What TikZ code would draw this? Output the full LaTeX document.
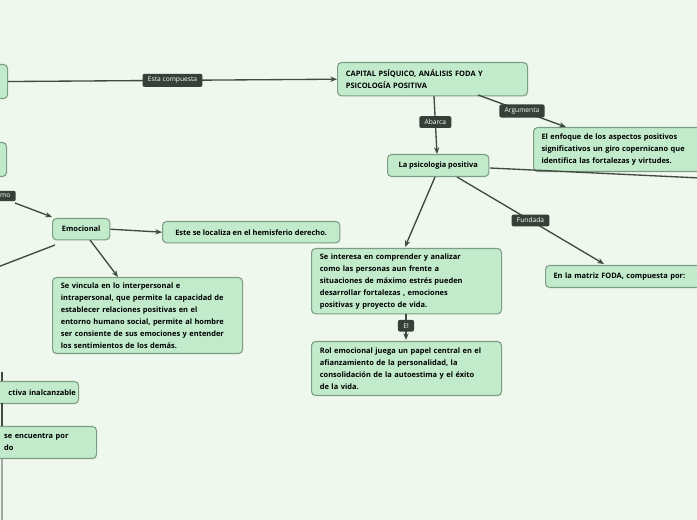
\documentclass[tikz,border=0pt]{standalone}
\usepackage{fontspec}
\setmainfont{Open Sans}
\usetikzlibrary{arrows.meta}
\definecolor{bg}{HTML}{EEF8EC}
\definecolor{nf}{HTML}{C1EBCB}
\definecolor{nd}{HTML}{7E9C86}
\definecolor{lf}{HTML}{363F38}
\definecolor{ed}{HTML}{3E4A42}
\begin{document}
\begin{tikzpicture}[x=0.75pt,y=-0.75pt,
 box/.style={draw=nd,fill=nf,rounded corners=3pt,line width=0.8pt,anchor=north west,inner sep=0pt,
   font=\fontsize{5.6}{9}\selectfont\bfseries,align=left,text=black},
 lab/.style={fill=lf,rounded corners=1.5pt,text=white,font=\fontsize{5}{6}\selectfont,inner xsep=4pt,inner ysep=2.5pt},
 con/.style={draw=ed,line width=1pt},
 arr/.style={con,-{Stealth[length=5pt,width=4pt]}}]
\clip (0,0) rectangle (697,520);
\fill[bg] (0,0) rectangle (697,520);
\useasboundingbox (0,0) rectangle (697,520);
% boxes
\node[box,minimum width=12.75pt,minimum height=25.5pt] (a) at (-10,64) {};
\node[box,minimum width=12pt,minimum height=25.5pt] (b) at (-10,142) {};
\node[box,minimum width=142.5pt,minimum height=25pt,inner xsep=6pt,text width=130pt] (cap) at (337,62) {CAPITAL PSÍQUICO, ANÁLISIS  FODA  Y\\PSICOLOGÍA  POSITIVA};
\node[box,minimum width=130pt,minimum height=33pt,inner xsep=6pt,text width=130pt] (arg) at (533,127) {El enfoque  de los  aspectos  positivos\\significativos un giro copernicano  que\\identifica  las fortalezas  y virtudes.};
\node[box,minimum width=76pt,minimum height=16.5pt,align=center] (psi) at (387,154) {La psicologia positiva};
\node[box,minimum width=142.5pt,minimum height=49pt,inner xsep=6pt,text width=130pt] (int) at (311,248) {Se interesa  en comprender   y analizar\\como   las personas aun frente  a\\situaciones  de  máximo estrés  pueden\\desarrollar  fortalezas , emociones\\positivas y   proyecto  de  vida.};
\node[box,minimum width=142.5pt,minimum height=40.5pt,inner xsep=6pt,text width=130pt] (rol) at (311,341) {Rol emocional juega  un papel central  en el\\afianzamiento  de la  personalidad, la\\consolidación de la autoestima y  el éxito\\de  la  vida.};
\node[box,minimum width=130pt,minimum height=16.5pt,inner xsep=6pt,text width=120pt] (foda) at (545,265) {En la  matriz FODA, compuesta por:};
\node[box,minimum width=43pt,minimum height=16pt,align=center] (emo) at (52,218) {Emocional};
\node[box,minimum width=133pt,minimum height=16pt,align=center] (loc) at (162,221) {Este se localiza en el hemisferio derecho.};
\node[box,minimum width=142.5pt,minimum height=57pt,inner xsep=6pt,text width=130pt] (vin) at (52,277) {Se vincula  en lo interpersonal e\\intrapersonal, que permite la capacidad de\\establecer relaciones positivas en el\\entorno humano social, permite al hombre\\ser consiente de sus emociones  y entender\\los  sentimientos de los  demás.};
\node[box,minimum width=66pt,minimum height=16.5pt,text width=62pt,inner xsep=2pt,align=right] (ina) at (-10,381) {ctiva inalcanzable};
\node[box,minimum width=79.5pt,minimum height=24pt,text width=75pt,inner xsep=2pt] (enc) at (-10,426) {\hspace*{8pt}se encuentra  por\\\hspace*{8pt}do};
% connectors
\coordinate (offr) at (700,178);
\coordinate (offl) at (-10,270);
\draw[arr] (a.east) -- (cap.west) node[lab,pos=0.5] {Esta  compuesta};
\draw[arr] (434,96) -- (437,154) node[lab,pos=0.45] {Abarca};
\draw[arr] (478,95) -- (566,127) node[lab,pos=0.5] {Argumenta};
\draw[con] (490,168) -- (offr);
\draw[arr] (435,177) -- (405,247);
\draw[arr] (457,177) -- (604,264) node[lab,pos=0.5] {Fundada};
\draw[arr] (406,314) -- (406,340) node[lab,pos=0.45] {El};
\draw[arr] (15,203) -- (52,217);
\node[lab,anchor=east] (molab) at (16,196) {mo};
\draw[con] (55,245) -- (offl);
\draw[arr] (90,240) -- (118,277);
\draw[arr] (emo.east) -- (loc.west);
\draw[con,line width=1.5pt] (2,403) -- (2,426);
\draw[con,draw=gray!70,line width=1.5pt] (2,459) -- (2,520);
\draw[con,line width=1.5pt] (2,372) -- (2,381);
\end{tikzpicture}
\end{document}
